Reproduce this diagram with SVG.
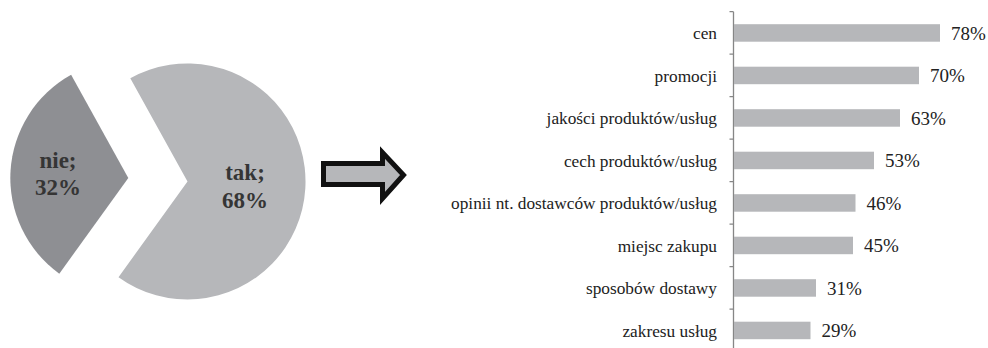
<svg xmlns="http://www.w3.org/2000/svg" width="988" height="348" viewBox="0 0 988 348">
<style>
.pie{font-family:"Liberation Serif",serif;font-weight:bold;font-size:23px;fill:#353535;text-anchor:middle}
.cat{font-family:"Liberation Serif",serif;font-size:17.3px;fill:#222;text-anchor:end}
.val{font-family:"Liberation Serif",serif;font-size:19px;fill:#222}
.bar{fill:#b6b7ba}
.ax{stroke:#868686;stroke-width:1.3;fill:none}
</style>
<rect width="988" height="348" fill="#fff"/>
<g id="pie">
<g id="slice-tak">
<path d="M187.5,181.5 L130.3,78.3 A118,118 0 1 1 118.5,277.2 Z" fill="#b6b7ba"/>
<text class="pie" x="245" y="180">tak;</text>
<text class="pie" x="245" y="208">68%</text>
</g>
<g id="slice-nie">
<path d="M128.3,178 L59.3,273.7 A118,118 0 0 1 71.1,74.8 Z" fill="#8e8f93"/>
<text class="pie" x="58" y="168">nie;</text>
<text class="pie" x="58" y="195">32%</text>
</g>
</g>
<g id="connectors">
<polygon points="323.5,163.5 382.5,163.5 382.5,152.5 403.5,175 382.5,198.5 382.5,184.5 323.5,184.5" fill="#b6b7ba" stroke="#111" stroke-width="5" stroke-linejoin="miter" stroke-miterlimit="10"/>
</g>
<g id="axis">
<path class="ax" d="M733.5,11.7 V348 M729.5,11.7 H733.5 M729.5,54.2 H733.5 M729.5,96.7 H733.5 M729.5,139.2 H733.5 M729.5,181.7 H733.5 M729.5,224.2 H733.5 M729.5,266.7 H733.5 M729.5,309.2 H733.5"/>
</g>
<g id="bar-cen"><rect class="bar" x="734" y="24.2" width="206" height="17.5"/><text class="cat" x="717" y="39">cen</text><text class="val" x="951" y="39.5">78%</text></g>
<g id="bar-promocji"><rect class="bar" x="734" y="66.7" width="185" height="17.5"/><text class="cat" x="717" y="81.5">promocji</text><text class="val" x="930" y="82">70%</text></g>
<g id="bar-jakosci"><rect class="bar" x="734" y="109.2" width="166" height="17.5"/><text class="cat" x="717" y="124">jakości produktów/usług</text><text class="val" x="911" y="124.5">63%</text></g>
<g id="bar-cech"><rect class="bar" x="734" y="151.7" width="140" height="17.5"/><text class="cat" x="717" y="166.5">cech produktów/usług</text><text class="val" x="885" y="167">53%</text></g>
<g id="bar-opinii"><rect class="bar" x="734" y="194.2" width="121.5" height="17.5"/><text class="cat" x="717" y="209">opinii nt. dostawców produktów/usług</text><text class="val" x="866.5" y="209.5">46%</text></g>
<g id="bar-miejsc"><rect class="bar" x="734" y="236.7" width="119" height="17.5"/><text class="cat" x="717" y="251.5">miejsc zakupu</text><text class="val" x="864" y="252">45%</text></g>
<g id="bar-sposobow"><rect class="bar" x="734" y="279.2" width="82" height="17.5"/><text class="cat" x="717" y="294">sposobów dostawy</text><text class="val" x="827" y="294.5">31%</text></g>
<g id="bar-zakresu"><rect class="bar" x="734" y="321.7" width="76.5" height="17.5"/><text class="cat" x="717" y="336.5">zakresu usług</text><text class="val" x="821.5" y="337">29%</text></g>
</svg>
